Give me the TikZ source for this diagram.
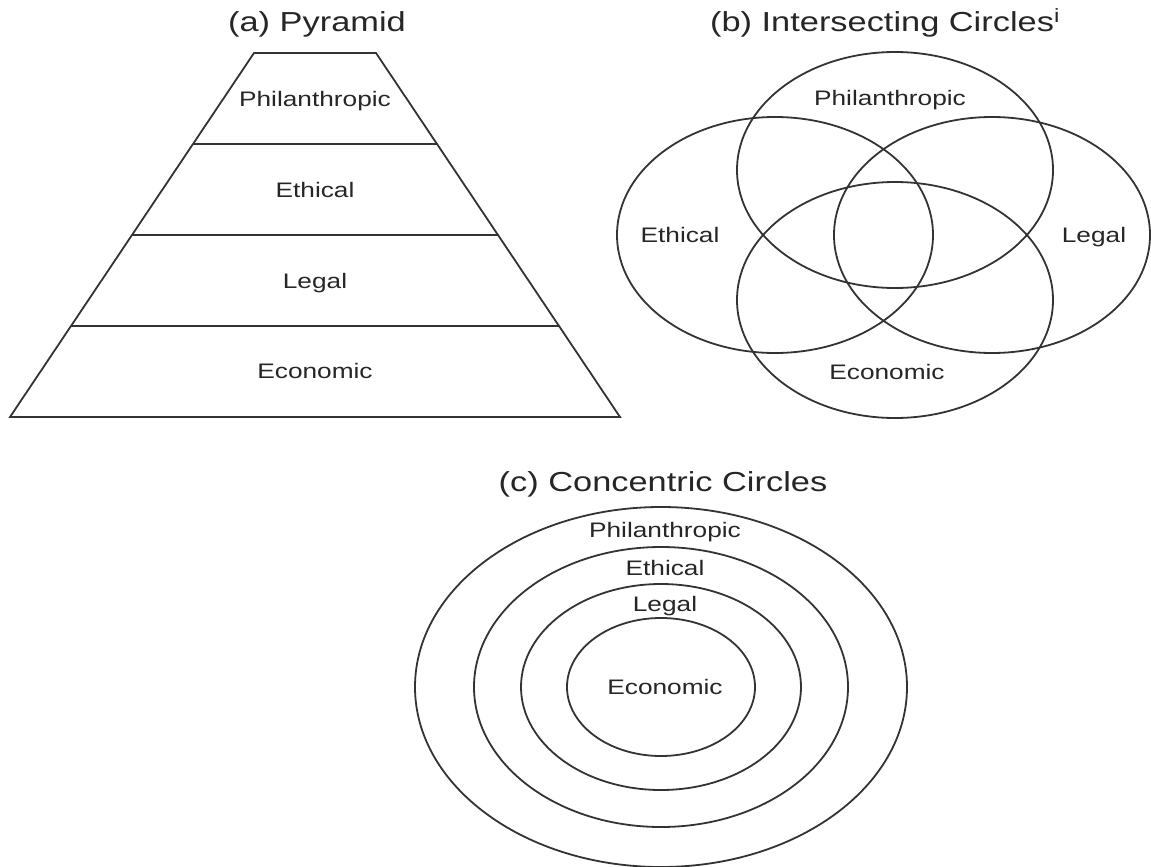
\documentclass[tikz,border=0pt]{standalone}
\usepackage{fontspec}
\setmainfont{Liberation Sans}[FakeStretch=1.25]
\usetikzlibrary{calc,positioning}
\tikzset{
  outline/.style={
    draw=black!80,
    line width=1.8pt
  },
  panelTitle/.style={
    font=\fontsize{27.5}{31}\selectfont,
    text=black!85,
    inner sep=0pt,
    anchor=base
  },
  layerText/.style={
    font=\fontsize{21}{24}\selectfont,
    text=black!85,
    inner sep=0pt,
    anchor=base
  }
}

\begin{document}
\begin{tikzpicture}[x=1pt,y=-1pt]
  \useasboundingbox (0,0) rectangle (1151,867);

  % (a) pyramid
  \node[panelTitle] (pyrTitle) at (317,31.5) {(a) Pyramid};
  \coordinate (pyrBL) at (10,417);
  \coordinate (pyrBR) at (620,417);
  \coordinate (pyrTL) at (254,53);
  \coordinate (pyrTR) at (376,53);
  \draw[outline] (pyrBL) -- (pyrBR) -- (pyrTR) -- (pyrTL) -- cycle;
  \foreach \f in {0.25,0.5,0.75}
    \draw[outline] ($(pyrBL)!\f!(pyrTL)$) -- ($(pyrBR)!\f!(pyrTR)$);
  \node[layerText] (pyrPhil) at (315,106) {Philanthropic};
  \node[layerText] (pyrEth) at (315,197) {Ethical};
  \node[layerText] (pyrLeg) at (315,288) {Legal};
  \node[layerText] (pyrEco) at (315,378) {Economic};

  % (b) intersecting circles
  \node[panelTitle] (vennTitle) at (885,31.5) {(b) Intersecting Circles\textsuperscript{i}};
  \coordinate (vennPhil) at (895,170);
  \coordinate (vennEco) at (895,300);
  \coordinate (vennEth) at (775,235);
  \coordinate (vennLeg) at (992,235);
  \foreach \c in {vennPhil,vennEco,vennEth,vennLeg}
    \draw[outline] (\c) ellipse [x radius=158, y radius=118];
  \node[layerText] (vennPhilText) at (890,105.5) {Philanthropic};
  \node[layerText] (vennEthText) at (680,242.5) {Ethical};
  \node[layerText] (vennLegText) at (1094,242.5) {Legal};
  \node[layerText] (vennEcoText) at (887,379.5) {Economic};

  % (c) concentric circles
  \node[panelTitle] (concTitle) at (663,491.5) {(c) Concentric Circles};
  \coordinate (concCenter) at (661,687);
  \foreach \rx/\ry in {94/69,140/103,187/140,246/180}
    \draw[outline] (concCenter) ellipse [x radius=\rx, y radius=\ry];
  \node[layerText] (concPhil) at (665,537.5) {Philanthropic};
  \node[layerText] (concEth) at (665,575.5) {Ethical};
  \node[layerText] (concLeg) at (665,611.5) {Legal};
  \node[layerText] (concEco) at (665,694.5) {Economic};
\end{tikzpicture}
\end{document}
